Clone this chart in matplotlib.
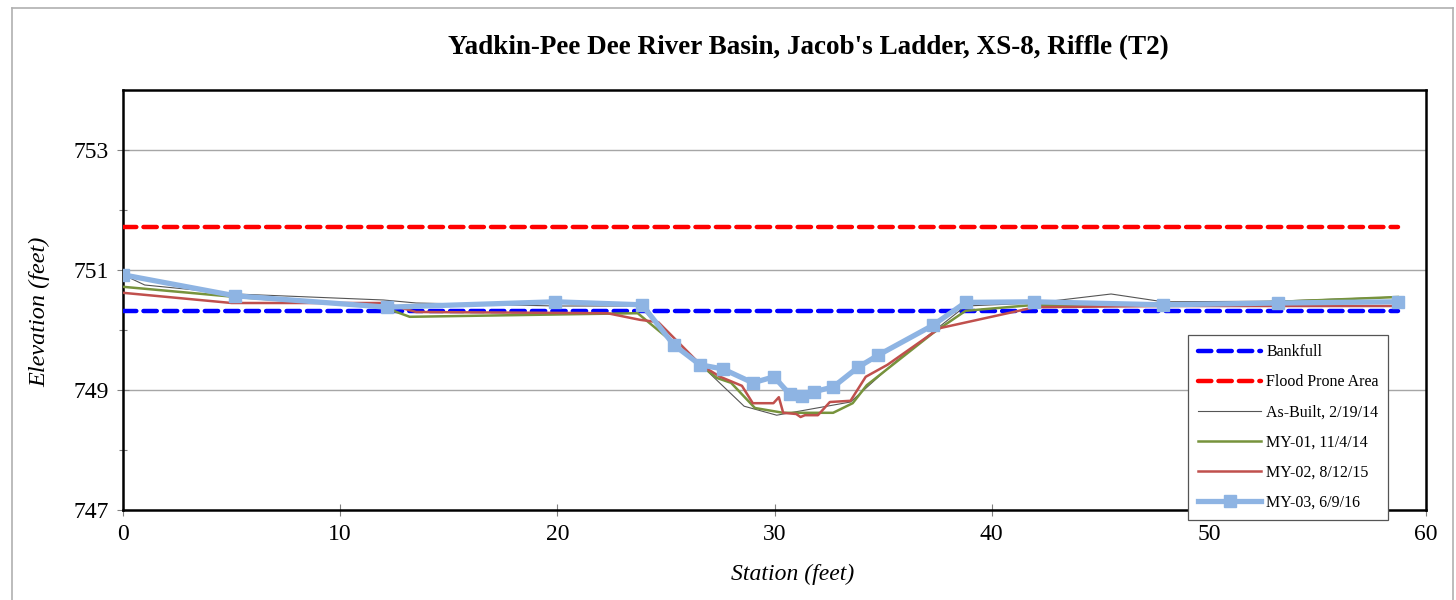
import matplotlib
matplotlib.use("Agg")
import matplotlib.pyplot as plt
from matplotlib.lines import Line2D

# Survey data for cross-section XS-8 (station in feet, elevation in feet)
bankfull_elev = 750.32
flood_prone_elev = 751.72
x_extent = [0.0, 58.7]

as_built_sta = [0.0, 1.0, 5.2, 12.0, 13.5, 20.0, 23.8, 25.3, 26.6, 28.6, 30.1,
                33.5, 35.5, 37.4, 38.8, 42.0, 45.5, 47.9, 53.0, 58.7]
as_built_elev = [750.92, 750.75, 750.6, 750.5, 750.45, 750.4, 750.4, 749.8, 749.42,
                 748.73, 748.58, 748.8, 749.45, 750.0, 750.4, 750.45, 750.6, 750.47,
                 750.48, 750.55]

my01_sta = [0.0, 5.2, 12.0, 13.2, 23.7, 25.2, 26.9, 27.35, 28.0, 29.1, 30.4, 32.7,
            33.6, 34.25, 37.3, 38.8, 42.0, 47.9, 53.2, 58.7]
my01_elev = [750.72, 750.55, 750.38, 750.22, 750.28, 749.83, 749.33, 749.2, 749.12,
             748.7, 748.62, 748.62, 748.78, 749.08, 749.95, 750.32, 750.42, 750.42,
             750.47, 750.55]

my02_sta = [0.0, 5.0, 12.0, 13.5, 22.3, 23.8, 24.65, 26.6, 27.5, 28.5, 29.0, 29.95,
            30.2, 30.4, 31.0, 31.2, 31.4, 32.0, 32.55, 33.5, 34.2, 35.2, 37.6, 42.0,
            47.9, 58.7]
my02_elev = [750.62, 750.45, 750.45, 750.3, 750.28, 750.17, 750.13, 749.42, 749.22,
             749.07, 748.78, 748.78, 748.88, 748.62, 748.6, 748.55, 748.58, 748.58,
             748.8, 748.82, 749.22, 749.42, 750.03, 750.38, 750.4, 750.4]

my03_sta = [0.0, 5.16, 12.15, 19.9, 23.9, 25.37, 26.57, 27.63, 29.0, 29.98, 30.7,
            31.27, 31.8, 32.7, 33.85, 34.77, 37.3, 38.8, 41.95, 47.9, 53.2, 58.7]
my03_elev = [750.92, 750.57, 750.38, 750.47, 750.42, 749.75, 749.42, 749.35, 749.12,
             749.22, 748.93, 748.9, 748.97, 749.05, 749.38, 749.58, 750.08, 750.46,
             750.47, 750.42, 750.45, 750.47]

x_ticks = [0, 10, 20, 30, 40, 50, 60]
y_ticks = [747, 749, 751, 753]
y_minor = [748, 750, 752]

plt.rcParams["font.family"] = ["Liberation Serif", "DejaVu Serif"]

W, H = 1456, 600
fig = plt.figure(figsize=(W / 100, H / 100), dpi=100)
ax = fig.add_axes([123 / W, 1 - 510 / H, (1426 - 123) / W, (510 - 90) / H])

# Horizontal gridlines at labelled elevations
for yv in y_ticks[1:]:
    ax.axhline(yv, color="#a6a6a6", lw=1.0, zorder=1)

dash_kw = dict(lw=3.2, dashes=(3.0, 1.6), dash_capstyle="round", zorder=3)
ax.plot(x_extent, [bankfull_elev] * 2, color="#0000ff", label="Bankfull", **dash_kw)
ax.plot(x_extent, [flood_prone_elev] * 2, color="#ff0000",
        label="Flood Prone Area", **dash_kw)
ax.plot(as_built_sta, as_built_elev, color="#555555", lw=0.8,
        label="As-Built, 2/19/14", zorder=4)
ax.plot(my01_sta, my01_elev, color="#77933c", lw=1.8,
        label="MY-01, 11/4/14", zorder=4)
ax.plot(my02_sta, my02_elev, color="#c0504d", lw=1.8,
        label="MY-02, 8/12/15", zorder=4)
ax.plot(my03_sta, my03_elev, color="#8eb4e3", lw=3.8, marker="s", ms=9,
        label="MY-03, 6/9/16", zorder=5)

ax.set_xlim(0, 60)
ax.set_ylim(747, 754)
ax.set_xticks(x_ticks)
ax.set_yticks(y_ticks)
ax.set_yticks(y_minor, minor=True)
ax.tick_params(axis="both", which="major", direction="inout", length=8,
               width=0.8, color="#808080", labelsize=17, pad=6)
ax.tick_params(axis="y", which="minor", direction="inout", length=6,
               width=0.8, color="#808080")
for s in ax.spines.values():
    s.set_linewidth(1.8)
    s.set_color("black")

fig.text(808 / W, 1 - 48 / H, "Yadkin-Pee Dee River Basin, Jacob's Ladder, XS-8, Riffle (T2)",
         ha="center", va="center", fontsize=19.5, fontweight="bold")
fig.text(793 / W, 1 - 574 / H, "Station (feet)", ha="center", va="center",
         fontsize=17, style="italic")
fig.text(40 / W, 1 - 312 / H, "Elevation (feet)", ha="center", va="center",
         fontsize=17.5, style="italic", rotation=90)

leg = ax.legend(loc="lower left", bbox_to_anchor=(1188 / W, 1 - 520 / H),
                bbox_transform=fig.transFigure, fontsize=11.5, frameon=True,
                fancybox=False, edgecolor="#555555", framealpha=1,
                handlelength=4.0, labelspacing=0.88, borderpad=0.6,
                handletextpad=0.3, borderaxespad=0)
leg.get_frame().set_linewidth(0.9)
leg.set_zorder(10)

# Outer chart-area border
fig.add_artist(Line2D([12 / W, 12 / W], [0, 1 - 8 / H], transform=fig.transFigure,
                      color="#b0b0b0", lw=1.2))
fig.add_artist(Line2D([12 / W, 1453 / W], [1 - 8 / H, 1 - 8 / H],
                      transform=fig.transFigure, color="#b0b0b0", lw=1.2))
fig.add_artist(Line2D([1453 / W, 1453 / W], [0, 1 - 8 / H], transform=fig.transFigure,
                      color="#b0b0b0", lw=1.2))

fig.savefig("out.png", dpi=100)
